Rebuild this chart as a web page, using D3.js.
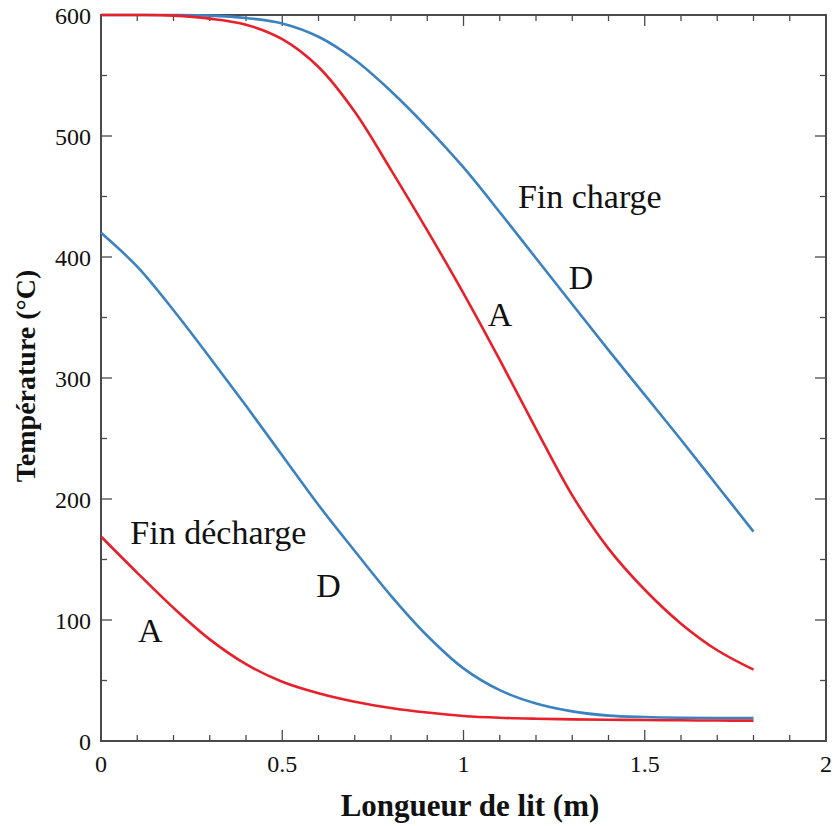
<!DOCTYPE html>
<html><head><meta charset="utf-8">
<script src="https://cdn.jsdelivr.net/npm/d3@7"></script>
<style>body{margin:0;background:#fff}svg{display:block}</style>
</head><body>
<svg id="c" width="834" height="826"></svg>
<script>
const xPos = [0,0.1,0.2,0.3,0.4,0.5,0.6,0.7,0.8,0.9,1.0,1.1,1.2,1.3,1.4,1.5,1.6,1.7,1.8];
const chargeD = [600,600,600,599.5,597.5,593,582,563,537,507,474,437,399,361,323,286,249,211,173];
const chargeA = [600,600,599.5,597,592,580,557,520,472,422,370,315,258,203,159,125,97,75,59];
const dechargeD = [420,392,356,317,277,236,195,157,120,87,60,42,31,24.5,21,19.8,19.2,19,19];
const dechargeA = [169,139,110,84,63.5,49,39.5,32.5,27.3,23.5,20.7,19.2,18.4,17.9,17.6,17.3,17.1,16.9,16.8];
const xTicks = [0,0.5,1,1.5,2];
const xTickLabels = ["0","0.5","1","1.5","2"];
const yTicks = [0,100,200,300,400,500,600];
const xTitle = "Longueur de lit (m)";
const yTitle = "Température (°C)";
const labels = [
  {t:"Fin charge", x:1.150, y:440.5},
  {t:"D", x:1.290, y:373.5},
  {t:"A", x:1.067, y:343},
  {t:"Fin décharge", x:0.081, y:162.8},
  {t:"D", x:0.594, y:118.7},
  {t:"A", x:0.102, y:82}
];

const svg = d3.select("#c");
const L=101, R=826, T=15, B=741;
const x = d3.scaleLinear().domain([0,2]).range([L,R]);
const y = d3.scaleLinear().domain([0,600]).range([B,T]);
const font = "'Liberation Serif','Times New Roman',serif";
const axisColor = "#4a4a4a";

// ticks (inward, all four sides)
const g = svg.append("g");
const minorX = d3.range(0,2.0001,0.1);
const minorY = d3.range(0,600.001,50);
minorX.forEach(v=>{
  const major = Math.abs(v*2-Math.round(v*2))<1e-6;
  const len = major?11:6;
  g.append("line").attr("x1",x(v)).attr("x2",x(v)).attr("y1",B).attr("y2",B-len).attr("stroke",axisColor).attr("stroke-width",1.3);
  g.append("line").attr("x1",x(v)).attr("x2",x(v)).attr("y1",T).attr("y2",T+len).attr("stroke",axisColor).attr("stroke-width",1.3);
});
minorY.forEach(v=>{
  const major = v%100===0;
  const len = major?11:6;
  g.append("line").attr("y1",y(v)).attr("y2",y(v)).attr("x1",L).attr("x2",L+len).attr("stroke",axisColor).attr("stroke-width",1.3);
  g.append("line").attr("y1",y(v)).attr("y2",y(v)).attr("x1",R).attr("x2",R-len).attr("stroke",axisColor).attr("stroke-width",1.3);
});
svg.append("rect").attr("x",L).attr("y",T).attr("width",R-L).attr("height",B-T)
  .attr("fill","none").attr("stroke",axisColor).attr("stroke-width",2);

// tick labels
xTicks.forEach((v,i)=>{
  svg.append("text").attr("x",x(v)).attr("y",B+31).attr("text-anchor","middle")
    .attr("font-family",font).attr("font-size",24).attr("fill","#111").text(xTickLabels[i]);
});
yTicks.forEach(v=>{
  svg.append("text").attr("x",L-10).attr("y",y(v)+8.5).attr("text-anchor","end")
    .attr("font-family",font).attr("font-size",24).attr("fill","#111").text(v);
});

// titles
svg.append("text").attr("x",470).attr("y",816).attr("text-anchor","middle")
  .attr("font-family",font).attr("font-weight","bold").attr("font-size",31).attr("fill","#111").text(xTitle);
svg.append("text").attr("transform","translate(35,376) rotate(-90)").attr("text-anchor","middle")
  .attr("font-family",font).attr("font-weight","bold").attr("font-size",28).attr("fill","#111").text(yTitle);

// curves
const line = d3.line().x(d=>x(d[0])).y(d=>y(d[1])).curve(d3.curveCatmullRom.alpha(0.5));
const series = [
  {v:chargeD, c:"#3b82c0"},
  {v:chargeA, c:"#e8202a"},
  {v:dechargeD, c:"#3b82c0"},
  {v:dechargeA, c:"#e8202a"}
];
series.forEach(s=>{
  svg.append("path").datum(xPos.map((xv,i)=>[xv,s.v[i]]))
    .attr("d",line).attr("fill","none").attr("stroke",s.c).attr("stroke-width",2.6);
});

// annotations
labels.forEach(l=>{
  svg.append("text").attr("x",x(l.x)).attr("y",y(l.y)).attr("font-family",font)
    .attr("font-size",34).attr("fill","#111").text(l.t);
});
</script>
</body></html>
